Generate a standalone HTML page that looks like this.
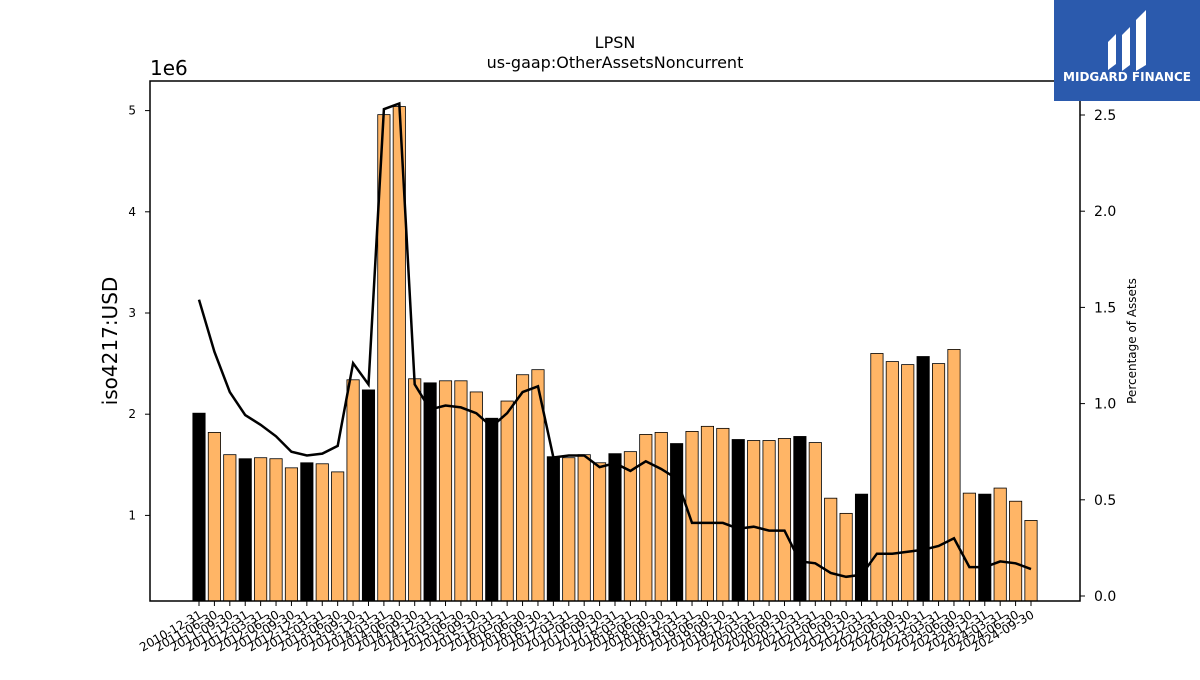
<!DOCTYPE html>
<html><head><meta charset="utf-8"><style>
body{margin:0;background:#fff;}
svg text{font-family:"DejaVu Sans","Liberation Sans",sans-serif;}
</style></head><body>
<svg id="chart" width="1200" height="675" viewBox="0 0 1200 675" xmlns="http://www.w3.org/2000/svg">
<rect width="1200" height="675" fill="#fff"/>
<text x="615" y="48" text-anchor="middle" font-size="16">LPSN</text>
<text x="615" y="68" text-anchor="middle" font-size="16">us-gaap:OtherAssetsNoncurrent</text>
<text x="150" y="75" font-size="20">1e6</text>
<text transform="translate(117,341) rotate(-90)" text-anchor="middle" font-size="20">iso4217:USD</text>
<text transform="translate(1136,341) rotate(-90)" text-anchor="middle" font-size="12">Percentage of Assets</text>
<g id="bars"></g>
<g id="xticks"></g>
<g id="yticks"></g>
<g id="y2ticks"></g>
<path id="line" fill="none" stroke="#000" stroke-width="2.5"/>
<rect x="150" y="81" width="930" height="520" fill="none" stroke="#000" stroke-width="1.5"/>
<g>
<rect x="1054" y="0" width="146" height="101" fill="#2b5aad"/>
<path d="M1108 42 l8 -8 v30 l-8 6z M1122 35 l8 -8 v38 l-8 6z M1136 20 l10 -10 v55 l-10 6z" fill="#fff"/>
<text x="1127" y="81" text-anchor="middle" font-size="12" font-weight="bold" fill="#fff">MIDGARD FINANCE</text>
</g>
</svg>
<script>
const dates=["2010-12-31","2011-06-30","2011-09-30","2011-12-31","2012-03-31","2012-06-30","2012-09-30","2012-12-31","2013-03-31","2013-06-30","2013-09-30","2013-12-31","2014-03-31","2014-06-30","2014-09-30","2014-12-31","2015-03-31","2015-06-30","2015-09-30","2015-12-31","2016-03-31","2016-06-30","2016-09-30","2016-12-31","2017-03-31","2017-06-30","2017-09-30","2017-12-31","2018-03-31","2018-06-30","2018-09-30","2018-12-31","2019-03-31","2019-06-30","2019-09-30","2019-12-31","2020-03-31","2020-06-30","2020-09-30","2020-12-31","2021-03-31","2021-06-30","2021-09-30","2021-12-31","2022-03-31","2022-06-30","2022-09-30","2022-12-31","2023-03-31","2023-06-30","2023-09-30","2023-12-31","2024-03-31","2024-06-30","2024-09-30"];
const values=[2.01,1.82,1.60,1.56,1.57,1.56,1.47,1.52,1.51,1.43,2.34,2.24,4.96,5.04,2.35,2.31,2.33,2.33,2.22,1.96,2.13,2.39,2.44,1.58,1.57,1.60,1.52,1.61,1.63,1.80,1.82,1.71,1.83,1.88,1.86,1.75,1.74,1.74,1.76,1.78,1.72,1.17,1.02,1.21,2.60,2.52,2.49,2.57,2.50,2.64,1.22,1.21,1.27,1.14,0.95];
const pct=[1.54,1.27,1.06,0.94,0.89,0.83,0.75,0.73,0.74,0.78,1.21,1.10,2.53,2.56,1.10,0.97,0.99,0.98,0.95,0.88,0.95,1.06,1.09,0.72,0.73,0.73,0.67,0.69,0.65,0.70,0.66,0.61,0.38,0.38,0.38,0.35,0.36,0.34,0.34,0.18,0.17,0.12,0.10,0.11,0.22,0.22,0.23,0.24,0.26,0.30,0.15,0.15,0.18,0.17,0.14];
const yTicks=[1,2,3,4,5];
const y2Ticks=[0.0,0.5,1.0,1.5,2.0,2.5];
const NS="http://www.w3.org/2000/svg";
const X0=199,X1=1031;
const xs=i=>X0+i*(X1-X0)/(dates.length-1);
const ys=v=>616.6-v*101.2;
const y2=v=>596-v*192.4;
const bw=12.3;
function mk(tag,attrs,parent){const e=document.createElementNS(NS,tag);for(const k in attrs)e.setAttribute(k,attrs[k]);parent.appendChild(e);return e;}
const gb=document.getElementById('bars'),gx=document.getElementById('xticks'),gy=document.getElementById('yticks'),gy2=document.getElementById('y2ticks');
dates.forEach((d,i)=>{
  const black=d.endsWith("12-31");
  const top=ys(values[i]);
  const r=mk('rect',{x:xs(i)-bw/2,y:top,width:bw,height:601-top,fill:black?'#000':'#ffb566',stroke:'#000','stroke-width':0.8},gb);
  
  
  const t=mk('line',{x1:xs(i),x2:xs(i),y1:601,y2:606,stroke:'#000'},gx);
  
  
  const l=mk('text',{'font-size':12,'text-anchor':'end',transform:`translate(${xs(i)+4},${617}) rotate(-30)`},gx);
  l.textContent=d;
  
  
});
yTicks.forEach(v=>{
  const t=mk('line',{x1:145,x2:150,y1:ys(v),y2:ys(v),stroke:'#000'},gy);
  
  
  const l=mk('text',{x:136,y:ys(v)+4,'font-size':12,'text-anchor':'end'},gy);
  l.textContent=v;
  
  
});
y2Ticks.forEach(v=>{
  const t=mk('line',{x1:1080,x2:1085,y1:y2(v),y2:y2(v),stroke:'#000'},gy2);
  
  
  const l=mk('text',{x:1094,y:y2(v)+5,'font-size':14},gy2);
  l.textContent=v.toFixed(1);
  
  
});
document.getElementById('line').setAttribute('d',pct.map((v,i)=>(i?'L':'M')+xs(i).toFixed(1)+' '+y2(v).toFixed(1)).join(' '));
</script>
</body></html>
